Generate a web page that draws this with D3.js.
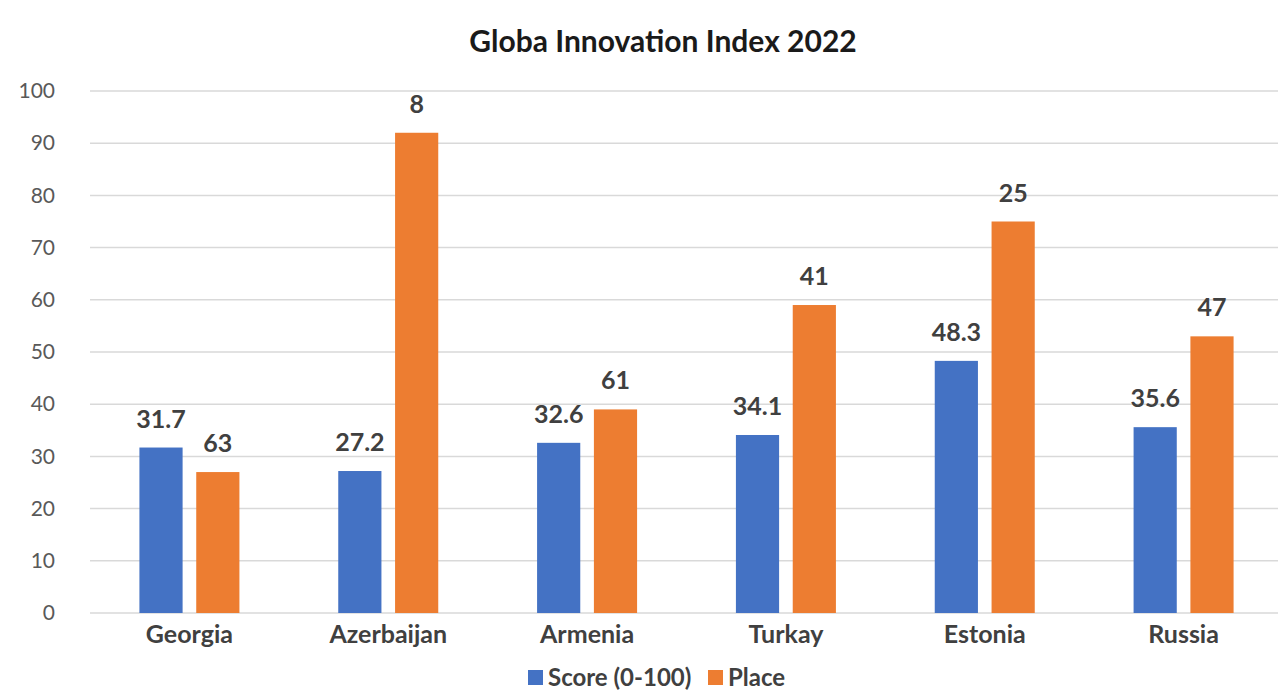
<!DOCTYPE html>
<html>
<head>
<meta charset="utf-8">
<script src="https://cdn.jsdelivr.net/npm/d3@7"></script>
<style>
  body { margin: 0; background: #fff; }
  text { font-family: Lato, "Open Sans", sans-serif; }
</style>
</head>
<body>
<div id="chart"></div>
<script>
var countries = ["Georgia", "Azerbaijan", "Armenia", "Turkay", "Estonia", "Russia"];
var scoreValues = [31.7, 27.2, 32.6, 34.1, 48.3, 35.6];
// bar heights of the "Place" series as drawn in the source
var placeBars = [27, 92, 39, 59, 75, 53];
var placeLabels = ["63", "8", "61", "41", "25", "47"];
var yTicks = [0, 10, 20, 30, 40, 50, 60, 70, 80, 90, 100];
var seriesNames = ["Score (0-100)", "Place"];
var colors = ["#4472c4", "#ed7d31"];

var width = 1278, height = 691;
var margin = {top: 91, right: -5, bottom: 78, left: 90};

var svg = d3.select("#chart").append("svg")
    .attr("width", width)
    .attr("height", height);

var x0 = d3.scaleBand()
    .domain(countries)
    .range([margin.left, width - margin.right])
    .paddingInner(0)
    .paddingOuter(0);

var x1 = d3.scaleBand()
    .domain([0, 1])
    .range([0, 100])
    .paddingInner(0.24);

var y = d3.scaleLinear()
    .domain([0, 100])
    .range([height - margin.bottom, margin.top]);

// gridlines
svg.append("g")
    .selectAll("line")
    .data(yTicks)
    .enter().append("line")
    .attr("x1", margin.left)
    .attr("x2", width)
    .attr("y1", function(d) { return y(d); })
    .attr("y2", function(d) { return y(d); })
    .attr("stroke", "#d9d9d9")
    .attr("stroke-width", 1.5);

// y tick labels
var yAxis = d3.axisLeft(y).tickValues(yTicks).tickSize(0).tickPadding(0);
var gy = svg.append("g")
    .attr("transform", "translate(55,0)")
    .call(yAxis);
gy.select(".domain").remove();
gy.selectAll("text")
    .attr("fill", "#595959")
    .style("font-size", "21px")
    .style("font-family", "Lato, sans-serif");

// groups
var groups = svg.append("g")
    .selectAll("g")
    .data(countries)
    .enter().append("g")
    .attr("transform", function(d) {
        return "translate(" + (x0(d) + x0.bandwidth() / 2 - 50) + ",0)";
    });

groups.append("rect")
    .attr("x", x1(0))
    .attr("width", x1.bandwidth())
    .attr("y", function(d, i) { return y(scoreValues[i]); })
    .attr("height", function(d, i) { return y(0) - y(scoreValues[i]); })
    .attr("fill", colors[0]);

groups.append("rect")
    .attr("x", x1(1))
    .attr("width", x1.bandwidth())
    .attr("y", function(d, i) { return y(placeBars[i]); })
    .attr("height", function(d, i) { return y(0) - y(placeBars[i]); })
    .attr("fill", colors[1]);

groups.append("text")
    .attr("x", x1(0) + x1.bandwidth() / 2)
    .attr("y", function(d, i) { return y(scoreValues[i]) - 20; })
    .attr("text-anchor", "middle")
    .attr("fill", "#404040")
    .style("font-size", "25px")
    .style("font-weight", "bold")
    .text(function(d, i) { return scoreValues[i].toFixed(1); });

groups.append("text")
    .attr("x", x1(1) + x1.bandwidth() / 2)
    .attr("y", function(d, i) { return y(placeBars[i]) - 20; })
    .attr("text-anchor", "middle")
    .attr("fill", "#404040")
    .style("font-size", "25px")
    .style("font-weight", "bold")
    .text(function(d, i) { return placeLabels[i]; });

// category labels
svg.append("g")
    .selectAll("text")
    .data(countries)
    .enter().append("text")
    .attr("x", function(d) { return x0(d) + x0.bandwidth() / 2; })
    .attr("y", 643)
    .attr("text-anchor", "middle")
    .attr("fill", "#404040")
    .style("font-size", "25px")
    .style("font-weight", "bold")
    .text(function(d) { return d; });

// title
svg.append("text")
    .attr("x", 663)
    .attr("y", 52)
    .attr("text-anchor", "middle")
    .attr("fill", "#1a1a1a")
    .style("font-size", "30px")
    .style("font-weight", "bold")
    .text("Globa Innovation Index 2022");

// legend
var legendX = [528, 708];
var legend = svg.append("g")
    .selectAll("g")
    .data(seriesNames)
    .enter().append("g")
    .attr("transform", function(d, i) { return "translate(" + legendX[i] + ",670)"; });
legend.append("rect")
    .attr("width", 15)
    .attr("height", 15)
    .attr("fill", function(d, i) { return colors[i]; });
legend.append("text")
    .attr("x", 20)
    .attr("y", 16)
    .attr("fill", "#404040")
    .style("font-size", "24px")
    .style("font-weight", "bold")
    .text(function(d) { return d; });
</script>
</body>
</html>
